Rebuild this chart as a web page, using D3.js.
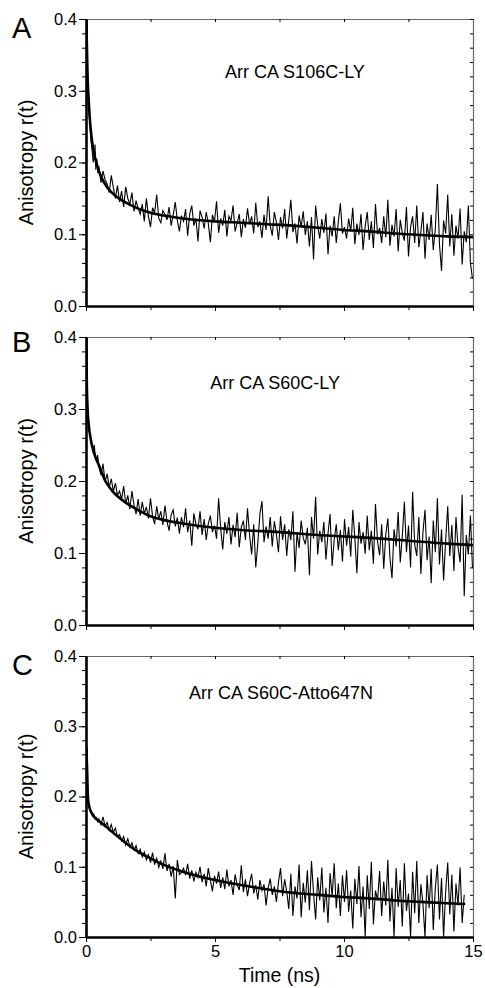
<!DOCTYPE html>
<html>
<head>
<meta charset="utf-8">
<script src="https://cdn.jsdelivr.net/npm/d3@7"></script>
<style>
  body { margin: 0; background: #fff; }
  svg { display: block; font-family: "Liberation Sans", Arial, sans-serif; }
</style>
</head>
<body>
<svg width="485" height="988"></svg>
<script>
// sampling of the decays: a dense early part, then one point every 0.08 ns from 0.5 ns
const sampleStart = 0.5;
const sampleStep = 0.08;

// panel A  Arr CA S106C-LY
const earlyTimeA = [0, 0.02, 0.04, 0.06, 0.08, 0.1, 0.13, 0.16, 0.2, 0.24, 0.28, 0.32, 0.35, 0.38, 0.42, 0.46];
const earlyA = [0.45, 0.42, 0.36, 0.33, 0.30, 0.285, 0.265, 0.25, 0.228, 0.215, 0.20, 0.21, 0.225, 0.19, 0.205, 0.185];
const restA = [
  0.195, 0.172, 0.188, 0.176, 0.170, 0.158, 0.182, 0.165, 0.150, 0.168,
  0.145, 0.160, 0.138, 0.166, 0.150, 0.142, 0.158, 0.132, 0.147, 0.136,
  0.128, 0.142, 0.118, 0.150, 0.125, 0.110, 0.137, 0.130, 0.155, 0.122,
  0.116, 0.133, 0.128, 0.120, 0.138, 0.112, 0.127, 0.145, 0.119, 0.104,
  0.126, 0.118, 0.135, 0.098, 0.128, 0.140, 0.112, 0.122, 0.090, 0.133,
  0.124, 0.108, 0.131, 0.115, 0.089, 0.127, 0.118, 0.146, 0.102, 0.122,
  0.112, 0.134, 0.097, 0.125, 0.119, 0.140, 0.104, 0.116, 0.128, 0.096,
  0.121, 0.109, 0.136, 0.114, 0.125, 0.101, 0.144, 0.110, 0.118, 0.095,
  0.127, 0.106, 0.153, 0.112, 0.098, 0.131, 0.117, 0.092, 0.124, 0.108,
  0.135, 0.094, 0.120, 0.148, 0.103, 0.115, 0.087, 0.126, 0.110, 0.132,
  0.099, 0.118, 0.083, 0.124, 0.065, 0.140, 0.113, 0.094, 0.121, 0.102,
  0.129, 0.072, 0.112, 0.097, 0.125, 0.088, 0.118, 0.143, 0.101, 0.110,
  0.094, 0.122, 0.104, 0.137, 0.086, 0.115, 0.099, 0.128, 0.078, 0.111,
  0.131, 0.092, 0.118, 0.081, 0.142, 0.100, 0.109, 0.088, 0.125, 0.096,
  0.148, 0.084, 0.113, 0.097, 0.135, 0.076, 0.120, 0.102, 0.091, 0.138,
  0.069, 0.110, 0.125, 0.088, 0.140, 0.082, 0.104, 0.131, 0.066, 0.115,
  0.092, 0.127, 0.078, 0.108, 0.170, 0.086, 0.049, 0.119, 0.101, 0.155,
  0.083, 0.128, 0.070, 0.112, 0.094, 0.136, 0.058, 0.104, 0.089, 0.140, 0.060, 0.038
];
const fitTimeA = [0, 0.03, 0.06, 0.1, 0.15, 0.2, 0.3, 0.4, 0.5, 0.7, 1, 1.5, 2, 2.5, 3, 4, 5, 6, 7, 8, 9, 10, 11, 12, 13, 14, 15];
const fitA = [0.46, 0.37, 0.32, 0.29, 0.26, 0.24, 0.215, 0.2, 0.188, 0.172, 0.158, 0.145, 0.136, 0.13, 0.126, 0.121, 0.118, 0.116, 0.114, 0.112, 0.109, 0.106, 0.104, 0.101, 0.099, 0.097, 0.096];

// panel B  Arr CA S60C-LY
const earlyTimeB = [0, 0.02, 0.04, 0.06, 0.08, 0.1, 0.13, 0.16, 0.2, 0.24, 0.28, 0.32, 0.36, 0.4, 0.45];
const earlyB = [0.45, 0.42, 0.35, 0.31, 0.29, 0.285, 0.27, 0.262, 0.255, 0.248, 0.24, 0.25, 0.235, 0.228, 0.236];
const restB = [
  0.220, 0.208, 0.224, 0.199, 0.210, 0.191, 0.203, 0.186, 0.197, 0.180,
  0.186, 0.175, 0.193, 0.168, 0.180, 0.161, 0.186, 0.167, 0.154, 0.175,
  0.152, 0.171, 0.155, 0.164, 0.148, 0.176, 0.151, 0.140, 0.165, 0.147,
  0.158, 0.139, 0.166, 0.144, 0.131, 0.153, 0.160, 0.137, 0.149, 0.127,
  0.150, 0.136, 0.162, 0.129, 0.145, 0.110, 0.155, 0.140, 0.133, 0.158,
  0.125, 0.147, 0.118, 0.141, 0.152, 0.129, 0.138, 0.120, 0.176, 0.134,
  0.105, 0.143, 0.127, 0.150, 0.112, 0.139, 0.122, 0.156, 0.108, 0.136,
  0.145, 0.118, 0.162, 0.125, 0.098, 0.140, 0.080, 0.114, 0.154, 0.172,
  0.115, 0.137, 0.120, 0.150, 0.109, 0.144, 0.126, 0.101, 0.151, 0.118,
  0.140, 0.096, 0.133, 0.118, 0.158, 0.074, 0.128, 0.107, 0.145, 0.121,
  0.112, 0.135, 0.069, 0.150, 0.120, 0.178, 0.098, 0.131, 0.115, 0.143,
  0.091, 0.127, 0.154, 0.082, 0.118, 0.140, 0.104, 0.132, 0.088, 0.147,
  0.110, 0.136, 0.095, 0.160, 0.121, 0.072, 0.143, 0.113, 0.129, 0.099,
  0.152, 0.104, 0.131, 0.085, 0.168, 0.116, 0.097, 0.140, 0.078, 0.126,
  0.148, 0.094, 0.065, 0.133, 0.109, 0.157, 0.087, 0.124, 0.171, 0.101,
  0.138, 0.080, 0.185, 0.112, 0.096, 0.150, 0.071, 0.129, 0.160, 0.090,
  0.123, 0.058, 0.145, 0.101, 0.176, 0.084, 0.133, 0.062, 0.117, 0.165,
  0.096, 0.139, 0.075, 0.150, 0.108, 0.087, 0.181, 0.040, 0.125, 0.098, 0.152, 0.079
];
const fitTimeB = [0, 0.03, 0.06, 0.1, 0.2, 0.3, 0.5, 0.75, 1, 1.5, 2, 2.5, 3, 3.75, 5, 6, 7.5, 9, 10, 11, 12.5, 14, 15];
const fitB = [0.46, 0.34, 0.30, 0.28, 0.255, 0.24, 0.222, 0.2, 0.187, 0.171, 0.16, 0.151, 0.146, 0.141, 0.135, 0.132, 0.129, 0.125, 0.123, 0.121, 0.117, 0.113, 0.111];

// panel C  Arr CA S60C-Atto647N
const earlyTimeC = [0, 0.01, 0.02, 0.03, 0.05, 0.07, 0.09, 0.12, 0.15, 0.2, 0.25, 0.3, 0.35, 0.4, 0.45];
const earlyC = [0.0, 0.06, 0.2, 0.27, 0.265, 0.22, 0.195, 0.185, 0.18, 0.178, 0.172, 0.175, 0.168, 0.17, 0.164];
const restC = [
  0.168, 0.160, 0.171, 0.158, 0.163, 0.152, 0.160, 0.149, 0.155, 0.143,
  0.146, 0.137, 0.143, 0.131, 0.140, 0.128, 0.134, 0.124, 0.130, 0.119,
  0.125, 0.114, 0.121, 0.110, 0.117, 0.106, 0.120, 0.103, 0.112, 0.099,
  0.108, 0.097, 0.119, 0.094, 0.104, 0.086, 0.101, 0.055, 0.110, 0.089,
  0.092, 0.098, 0.088, 0.104, 0.083, 0.095, 0.079, 0.092, 0.085, 0.100,
  0.078, 0.090, 0.072, 0.098, 0.081, 0.065, 0.087, 0.076, 0.093, 0.070,
  0.085, 0.068, 0.096, 0.072, 0.081, 0.060, 0.089, 0.074, 0.067, 0.102,
  0.064, 0.082, 0.058, 0.077, 0.090, 0.062, 0.074, 0.053, 0.081, 0.066,
  0.075, 0.045, 0.070, 0.083, 0.060, 0.072, 0.050, 0.078, 0.098, 0.058,
  0.082, 0.065, 0.040, 0.090, 0.030, 0.072, 0.055, 0.103, 0.028, 0.077,
  0.049, 0.095, 0.038, 0.108, 0.062, 0.025, 0.085, 0.052, 0.099, 0.035,
  0.070, 0.020, 0.091, 0.058, 0.105, 0.041, 0.076, 0.030, 0.088, 0.050,
  0.095, 0.036, 0.066, 0.012, 0.083, 0.047, 0.101, 0.028, 0.072, 0.000,
  0.088, 0.040, 0.107, 0.018, 0.066, 0.052, 0.094, 0.030, 0.079, 0.045,
  0.110, 0.022, 0.070, 0.000, 0.098, 0.043, 0.081, 0.015, 0.105, 0.037,
  0.062, 0.000, 0.093, 0.034, 0.108, 0.020, 0.075, 0.047, 0.000, 0.088,
  0.041, 0.097, 0.010, 0.070, 0.103, 0.025, 0.084, 0.000, 0.065, 0.106,
  0.032, 0.089, 0.008, 0.076, 0.045, 0.099, 0.020, 0.060
];
const fitTimeC = [0.02, 0.05, 0.1, 0.2, 0.3, 0.5, 0.75, 1, 1.5, 2, 2.5, 3, 3.5, 4, 5, 6, 7, 8, 9, 10, 11, 12, 13, 14, 14.7];
const fitC = [0.27, 0.22, 0.19, 0.178, 0.172, 0.165, 0.158, 0.15, 0.135, 0.122, 0.112, 0.103, 0.096, 0.09, 0.081, 0.074, 0.068, 0.063, 0.06, 0.057, 0.055, 0.052, 0.05, 0.048, 0.047];

const xTicks = [0, 5, 10, 15];
const yTicks = [0, 0.1, 0.2, 0.3, 0.4];

// layout of the three stacked panels
const panels = [
  { letter: 'A', title: 'Arr CA S106C-LY', top: 19, bottom: 306, letterY: 38, titleAt: [8.1, 0.318],
    earlyT: earlyTimeA, early: earlyA, rest: restA, fitT: fitTimeA, fit: fitA },
  { letter: 'B', title: 'Arr CA S60C-LY', top: 337, bottom: 625, letterY: 352, titleAt: [7.33, 0.328],
    earlyT: earlyTimeB, early: earlyB, rest: restB, fitT: fitTimeB, fit: fitB },
  { letter: 'C', title: 'Arr CA S60C-Atto647N', top: 656, bottom: 937, letterY: 675, titleAt: [7.56, 0.339],
    earlyT: earlyTimeC, early: earlyC, rest: restC, fitT: fitTimeC, fit: fitC }
];

let svg = d3.select('svg'),
  left = 86,
  right = 473;

let x = d3.scaleLinear().domain([0, 15]).range([left, right]);

panels.forEach((p, k) => {
  let y = d3.scaleLinear().domain([0, 0.4]).range([p.bottom, p.top]);
  let g = svg.append('g');

  // data points: early part plus evenly sampled rest
  let pts = p.earlyT.map((t, i) => [t, p.early[i]])
    .concat(p.rest.map((v, i) => [sampleStart + i * sampleStep, v]));
  let fitPts = p.fitT.map((t, i) => [t, p.fit[i]]);

  g.append('clipPath').attr('id', 'clip' + k)
    .append('rect')
    .attr('x', left).attr('y', p.top)
    .attr('width', right - left).attr('height', p.bottom - p.top);

  let line = d3.line().x(d => x(d[0])).y(d => y(d[1]));

  let plot = g.append('g').attr('clip-path', `url(#clip${k})`);
  plot.append('path')
    .datum(pts)
    .attr('fill', 'none')
    .attr('stroke', '#000')
    .attr('stroke-width', 1.1)
    .attr('d', line);
  plot.append('path')
    .datum(fitPts)
    .attr('fill', 'none')
    .attr('stroke', '#000')
    .attr('stroke-width', 2.6)
    .attr('d', line.curve(d3.curveMonotoneX));

  // frame: thin top and right with inward ticks
  g.append('g')
    .attr('transform', `translate(0,${p.top})`)
    .call(d3.axisBottom(x).tickValues(d3.range(0, 15.01, 2.5)).tickSize(3).tickSizeOuter(0).tickFormat(''))
    .call(a => a.select('.domain').attr('stroke', '#666').attr('stroke-width', 1.2));
  g.append('g')
    .attr('transform', `translate(${right},0)`)
    .call(d3.axisLeft(y).tickValues(d3.range(0, 0.401, 0.02)).tickSize(3).tickSizeOuter(0).tickFormat(''))
    .call(a => a.select('.domain').attr('stroke', '#666').attr('stroke-width', 1.2));

  // minor ticks
  g.append('g')
    .attr('transform', `translate(${left},0)`)
    .call(d3.axisLeft(y).tickValues(d3.range(0, 0.401, 0.02)).tickSize(4).tickSizeOuter(0).tickFormat(''))
    .call(a => a.select('.domain').remove());
  g.append('g')
    .attr('transform', `translate(0,${p.bottom})`)
    .call(d3.axisBottom(x).tickValues(d3.range(0, 15.01, 2.5)).tickSize(4).tickSizeOuter(0).tickFormat(''))
    .call(a => a.select('.domain').remove());

  // main left axis
  g.append('g')
    .attr('transform', `translate(${left},0)`)
    .call(d3.axisLeft(y).tickValues(yTicks).tickSize(7).tickPadding(2).tickSizeOuter(0).tickFormat(d3.format('.1f')))
    .call(a => a.select('.domain').attr('stroke-width', 2.6))
    .call(a => a.selectAll('text').attr('font-size', 16.5).attr('fill', '#000').attr('font-family', null));

  // bottom axis, labelled only on the last panel
  let xb = d3.axisBottom(x).tickValues(xTicks).tickSize(5).tickSizeOuter(0).tickPadding(3);
  if (k < panels.length - 1) xb.tickFormat('');
  g.append('g')
    .attr('transform', `translate(0,${p.bottom})`)
    .call(xb)
    .call(a => a.select('.domain').attr('stroke-width', 2.6))
    .call(a => a.selectAll('text').attr('font-size', 16.5).attr('fill', '#000').attr('font-family', null));

  g.append('text')
    .attr('transform', `translate(33,${(p.top + p.bottom) / 2}) rotate(-90)`)
    .attr('text-anchor', 'middle')
    .attr('font-size', 20)
    .text('Anisotropy r(t)');

  g.append('text')
    .attr('x', x(p.titleAt[0]))
    .attr('y', y(p.titleAt[1]))
    .attr('text-anchor', 'middle')
    .attr('font-size', 18)
    .text(p.title);

  g.append('text')
    .attr('x', 12)
    .attr('y', p.letterY)
    .attr('font-size', 29)
    .text(p.letter);

  if (k === panels.length - 1) {
    g.append('text')
      .attr('x', x(7.5))
      .attr('y', 982)
      .attr('text-anchor', 'middle')
      .attr('font-size', 19.5)
      .text('Time (ns)');
  }
});
</script>
</body>
</html>
